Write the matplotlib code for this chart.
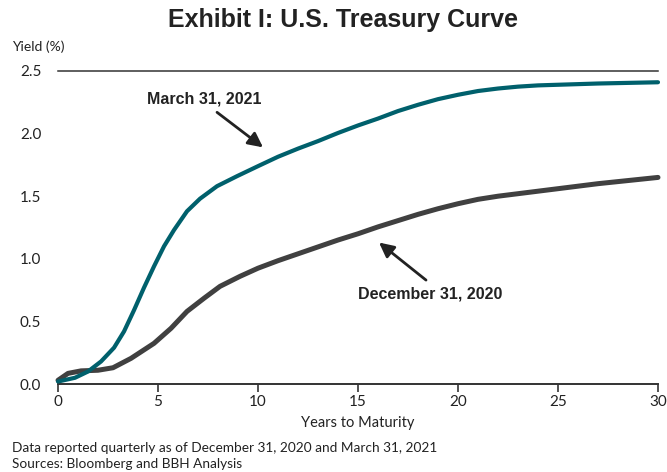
import matplotlib.pyplot as plt

# yields (years to maturity, yield %)
maturity_mar = [0, 0.85, 1.5, 2.15, 2.8, 3.3, 3.8, 4.3, 4.8, 5.3, 5.8, 6.45, 7.1,
                7.95, 8.95, 10, 11, 12, 13, 14, 15, 16, 17, 18, 19, 20, 21, 22, 23,
                24, 25, 27, 30]
yield_mar = [0.02, 0.05, 0.10, 0.18, 0.29, 0.42, 0.59, 0.77, 0.94, 1.10, 1.23, 1.38,
             1.48, 1.58, 1.66, 1.74, 1.815, 1.88, 1.94, 2.005, 2.065, 2.12, 2.18,
             2.23, 2.275, 2.31, 2.34, 2.36, 2.375, 2.385, 2.39, 2.40, 2.41]

maturity_dec = [0, 0.5, 1.15, 2.0, 2.75, 3.65, 4.8, 5.65, 6.45, 7.3, 8.1, 9.1, 10,
                11, 12, 13, 14, 15, 16, 17, 18, 19, 20, 21, 22, 23, 25, 27, 30]
yield_dec = [0.03, 0.085, 0.105, 0.11, 0.13, 0.205, 0.325, 0.445, 0.58, 0.685, 0.78,
             0.86, 0.925, 0.985, 1.04, 1.095, 1.15, 1.20, 1.255, 1.305, 1.355, 1.40,
             1.44, 1.475, 1.50, 1.52, 1.56, 1.60, 1.65]

x_ticks = [0, 5, 10, 15, 20, 25, 30]
y_ticks = [0.0, 0.5, 1.0, 1.5, 2.0, 2.5]

TEAL = '#00606c'
GRAY = '#404040'
INK = '#222222'
label_font = ['Lato', 'DejaVu Sans']
bold_font = ['Liberation Sans', 'DejaVu Sans']

fig = plt.figure(figsize=(6.67, 4.72), dpi=100)
ax = fig.add_axes([0.087, 0.1864, 0.8995, 0.6632])

ax.plot(maturity_dec, yield_dec, color=GRAY, lw=3.6, solid_capstyle='round',
        solid_joinstyle='round', clip_on=False, zorder=3)
ax.plot(maturity_mar, yield_mar, color=TEAL, lw=3.0, solid_capstyle='round',
        solid_joinstyle='round', clip_on=False, zorder=4)

ax.set_xlim(0, 30)
ax.set_ylim(0, 2.5)
ax.set_xticks(x_ticks)
ax.set_yticks(y_ticks)
ax.set_yticklabels(['%.1f' % v for v in y_ticks])

for s in ['left', 'right']:
    ax.spines[s].set_visible(False)
ax.spines['bottom'].set_color('#333333')
ax.spines['bottom'].set_linewidth(1.4)
ax.spines['top'].set_color('#333333')
ax.spines['top'].set_linewidth(1.1)

ax.tick_params(axis='x', direction='out', length=6, width=1.2, color='#333333',
               pad=2, labelsize=11, labelcolor=INK)
ax.tick_params(axis='y', length=0, pad=12, labelsize=11, labelcolor=INK)
for lab in ax.get_xticklabels() + ax.get_yticklabels():
    lab.set_family(label_font)

ax.set_xlabel('Years to Maturity', family=label_font, fontsize=10.5,
              color=INK, labelpad=5)

fig.text(0.018, 0.9, 'Yield (%)', family=label_font, fontsize=10,
         color=INK, va='center', ha='left')
fig.text(0.514, 0.957, 'Exhibit I: U.S. Treasury Curve', family=bold_font,
         fontsize=18, fontweight='bold', color=INK, ha='center', va='center')

# curve labels with pointer arrows
ax.text(7.3, 2.28, 'March 31, 2021', ha='center', va='center', family=bold_font,
        fontsize=11.5, fontweight='bold', color=INK)
ax.annotate('', xy=(10.25, 1.89), xytext=(7.95, 2.17),
            arrowprops=dict(arrowstyle='-|>', color=INK, lw=2,
                            mutation_scale=22, shrinkA=0, shrinkB=0))
ax.text(18.6, 0.72, 'December 31, 2020', ha='center', va='center', family=bold_font,
        fontsize=11.5, fontweight='bold', color=INK)
ax.annotate('', xy=(16.05, 1.13), xytext=(18.4, 0.83),
            arrowprops=dict(arrowstyle='-|>', color=INK, lw=2,
                            mutation_scale=22, shrinkA=0, shrinkB=0))

fig.text(0.018, 0.05, 'Data reported quarterly as of December 31, 2020 and March 31, 2021',
         family=label_font, fontsize=9.8, color=INK, va='center')
fig.text(0.018, 0.016, 'Sources: Bloomberg and BBH Analysis',
         family=label_font, fontsize=9.8, color=INK, va='center')

fig.savefig('out.png', dpi=100)
